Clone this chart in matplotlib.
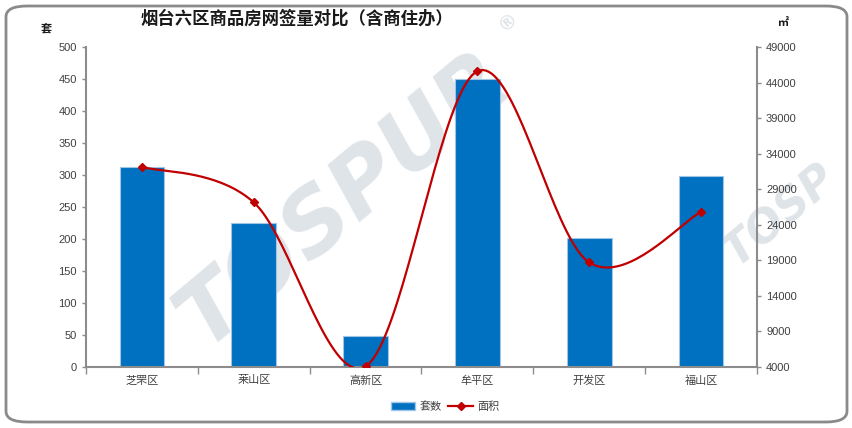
import numpy as np
import matplotlib
matplotlib.use("Agg")
import matplotlib.pyplot as plt
from matplotlib.patches import FancyBboxPatch
from matplotlib.lines import Line2D
from matplotlib.patches import Patch

plt.rcParams['font.family'] = ['Liberation Sans', 'Noto Sans CJK SC', 'DejaVu Sans']

categories = ['芝罘区', '莱山区', '高新区', '牟平区', '开发区', '福山区']
units = [313, 225, 48, 450, 201, 298]
area = [32150, 27150, 4100, 45600, 18700, 25800]
left_ticks = [0, 50, 100, 150, 200, 250, 300, 350, 400, 450, 500]
right_ticks = [4000, 9000, 14000, 19000, 24000, 29000, 34000, 39000, 44000, 49000]

title = '烟台六区商品房网签量对比（含商住办）'
left_unit = '套'
right_unit = '㎡'
bar_label = '套数'
line_label = '面积'

BLUE = '#0070C0'
RED = '#C00000'
GRAY = '#8c8c8c'
TXT = '#404040'

fig = plt.figure(figsize=(8.53, 4.28), dpi=100)
fig.patch.set_facecolor('white')

# rounded frame
frame = FancyBboxPatch((6/853, 6/428), 841/853, 416/428,
                       boxstyle='round,pad=0,rounding_size=0.025',
                       transform=fig.transFigure, fill=False,
                       edgecolor='#8a8a8a', linewidth=2, zorder=-2)
fig.patches.append(frame)

# watermark
wm_kw = dict(fontweight='bold', fontstyle='italic', color='#dfe4e9',
             rotation=40, ha='center', va='center', zorder=-1,
             family=['DejaVu Sans'])
fig.text(345/853, 1 - 200/428, 'TOSPUR', fontsize=64, **wm_kw)
fig.text(780/853, 1 - 215/428, 'TOSP', fontsize=32, **wm_kw)
fig.text(508/853, 1 - 22/428, '®', fontsize=14, **wm_kw)

ax = fig.add_axes([86/853, 1 - 367/428, 671/853, 320/428])
ax.patch.set_alpha(0)
x = np.arange(len(categories))
ax.bar(x, units, width=0.4, color=BLUE, edgecolor='#9fc6e6', linewidth=0.8, zorder=2)
ax.set_xlim(-0.5, len(categories) - 0.5)
ax.set_ylim(0, 500)
ax.set_yticks(left_ticks)
ax.set_xticks(x)
ax.set_xticklabels(categories, fontsize=8, color=TXT, family=['Noto Sans CJK SC'])
ax.set_xticks(np.arange(-0.5, len(categories)), minor=True)
ax.tick_params(axis='x', which='major', length=0, pad=6)
ax.tick_params(axis='x', which='minor', length=5, color=GRAY, width=1)
ax.tick_params(axis='y', labelsize=8, colors=TXT, length=3, width=1)
ax.tick_params(axis='y', color=GRAY)
for s in ['top', 'right']:
    ax.spines[s].set_visible(False)
for s in ['left', 'bottom']:
    ax.spines[s].set_color(GRAY)
    ax.spines[s].set_linewidth(1.5)

ax2 = ax.twinx()
ax2.patch.set_alpha(0)
ax2.set_ylim(4000, 49000)
ax2.set_yticks(right_ticks)
ax2.tick_params(axis='y', labelsize=8, colors=TXT, length=3, width=1)
ax2.tick_params(axis='y', color=GRAY)
for s in ['top', 'left', 'bottom']:
    ax2.spines[s].set_visible(False)
ax2.spines['right'].set_color(GRAY)
ax2.spines['right'].set_linewidth(1.5)

# smoothed line (Excel-like Bezier through data points)
xs = x.astype(float)
ys = np.array(area, dtype=float)
n = len(xs)
cx, cy = [], []
t = np.linspace(0, 1, 40)
for i in range(n - 1):
    p0 = np.array([xs[max(i - 1, 0)], ys[max(i - 1, 0)]])
    p1 = np.array([xs[i], ys[i]])
    p2 = np.array([xs[i + 1], ys[i + 1]])
    p3 = np.array([xs[min(i + 2, n - 1)], ys[min(i + 2, n - 1)]])
    b1 = p1 + (p2 - p0) / 6
    b2 = p2 - (p3 - p1) / 6
    seg = ((1 - t) ** 3)[:, None] * p1 + (3 * (1 - t) ** 2 * t)[:, None] * b1 \
        + (3 * (1 - t) * t ** 2)[:, None] * b2 + (t ** 3)[:, None] * p2
    cx.extend(seg[:, 0])
    cy.extend(seg[:, 1])
ax2.plot(cx, cy, color=RED, linewidth=1.6, zorder=3)
ax2.plot(xs, ys, linestyle='none', marker='D', markersize=4.5, color=RED, zorder=4)

fig.text(297/853, 1 - 19/428, title, fontsize=12.5, fontweight='bold', color='#1a1a1a',
         ha='center', va='center', family=['Noto Sans CJK SC'])
fig.text(46/853, 1 - 28/428, left_unit, fontsize=8, fontweight='bold', color='#1a1a1a',
         ha='center', va='center', family=['Noto Sans CJK SC'])
fig.text(784/853, 1 - 22/428, right_unit, fontsize=8, fontweight='bold', color='#1a1a1a',
         ha='center', va='center', family=['Noto Sans CJK SC', 'DejaVu Sans'])

handles = [Patch(facecolor=BLUE, edgecolor='#9fc6e6'),
           Line2D([0], [0], color=RED, marker='D', markersize=4.5, linewidth=1.6)]
leg = fig.legend(handles, [bar_label, line_label], loc='center',
                 bbox_to_anchor=(445/853, 1 - 407/428), ncol=2, frameon=False,
                 prop={'family': 'Noto Sans CJK SC', 'size': 8},
                 handlelength=2.2, handletextpad=0.4, columnspacing=0.6)
for t_ in leg.get_texts():
    t_.set_color(TXT)

fig.savefig('out.png', dpi=100, facecolor='white')
